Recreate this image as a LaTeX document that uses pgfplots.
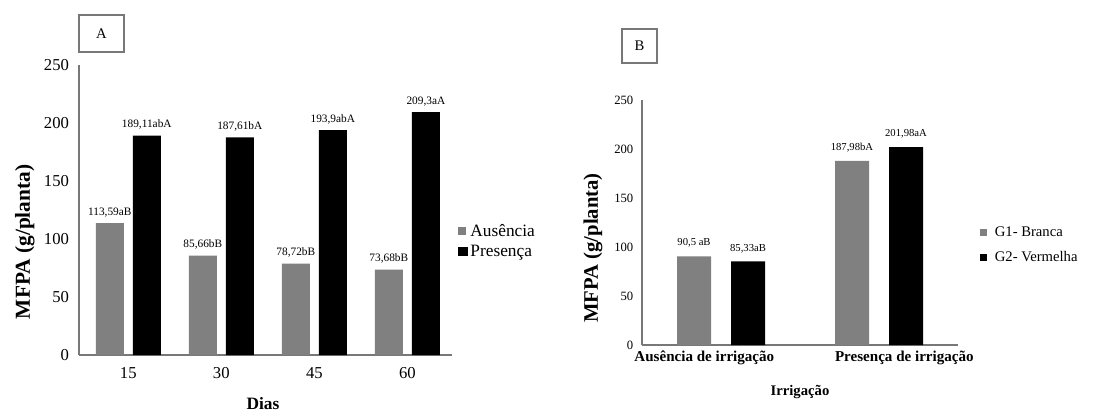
\documentclass[border=0pt]{standalone}
\usepackage{pgfplots}
\pgfplotsset{compat=1.18}
\usepackage{fontspec}
\setmainfont{Liberation Serif}

\definecolor{barGray}{RGB}{128,128,128}
\definecolor{axGray}{RGB}{120,120,120}

\pgfplotsset{
  panel/.style={
    scale only axis,
    anchor=south west,
    axis lines*=left,
    axis line style={axGray, line width=0.9pt, -},
    major tick length=0pt,
    ymin=0, ymax=250,
    ytick={0,50,100,150,200,250},
    /pgf/number format/assume math mode=true,
    xtick=data,
    nodes near coords,
    point meta=explicit symbolic,
    legend cell align=left,
    legend style={draw=none, fill=none},
    clip=false,
  },
  sqlegend/.style={
    legend image code/.code={\draw[##1, draw=none] (0pt,-#1) rectangle (2*#1,#1);}
  },
}

\begin{document}
\begin{tikzpicture}
\useasboundingbox (0,0) rectangle (828.75pt,309pt);

% ---------- Panel A: MFPA over days ----------
\begin{axis}[panel,
  at={(59.25pt,42.75pt)},
  width=279.75pt, height=217.5pt,
  xmin=-0.53, xmax=3.48,
  xticklabels={15,30,45,60},
  ybar=6.75pt, bar width=21pt,
  ticklabel style={font=\fontsize{12.5}{14}\selectfont},
  yticklabel style={xshift=-4pt},
  xticklabel style={yshift=-6pt},
  nodes near coords style={font=\fontsize{8.5}{10}\selectfont, yshift=1pt},
  xlabel={\textbf{Dias}},
  xlabel style={at={(axis description cs:0.493,-0.166)}, anchor=center, font=\fontsize{13}{15}\selectfont},
  ylabel={\textbf{MFPA (g/planta)}},
  ylabel style={at={(axis description cs:-0.145,0.39)}, anchor=center, font=\fontsize{16}{18}\selectfont},
  legend style={at={(axis description cs:1.005,0.393)}, anchor=west,
    font=\fontsize{13}{15.5}\selectfont, row sep=1pt},
]
\addplot[fill=barGray, draw=none, sqlegend=3pt] coordinates {
  (0,113.59) [113,59aB]
  (1,85.66)  [85,66bB]
  (2,78.72)  [78,72bB]
  (3,73.68)  [73,68bB]
};
\addplot[fill=black, draw=none, sqlegend=3.6pt] coordinates {
  (0,189.11) [189,11abA]
  (1,187.61) [187,61bA]
  (2,193.9)  [193,9abA]
  (3,209.3)  [209,3aA]
};
\legend{Ausência,Presença}
\end{axis}

% ---------- Panel B: MFPA by irrigation ----------
\begin{axis}[panel,
  at={(481.5pt,50.25pt)},
  width=237pt, height=183.75pt,
  xmin=-0.5, xmax=1.5,
  xticklabels={\textbf{Ausência de irrigação}\hspace*{25pt},\hspace*{38pt}\textbf{Presença de irrigação}},
  ybar=15pt, bar width=25.5pt,
  yticklabel style={font=\fontsize{9.5}{11}\selectfont, xshift=-3pt},
  xticklabel style={font=\fontsize{11.3}{12}\selectfont, yshift=-1pt},
  nodes near coords style={font=\fontsize{8}{9}\selectfont, yshift=3pt},
  xlabel={\textbf{Irrigação}},
  xlabel style={at={(axis description cs:0.5,-0.192)}, anchor=center, font=\fontsize{11}{12}\selectfont},
  ylabel={\textbf{MFPA (g/planta)}},
  ylabel style={at={(axis description cs:-0.155,0.396)}, anchor=center, font=\fontsize{15.5}{18}\selectfont},
  legend style={at={(axis description cs:1.055,0.408)}, anchor=west,
    font=\fontsize{11}{13}\selectfont, row sep=6pt,
    nodes={inner xsep=6pt}},
]
\addplot[fill=barGray, draw=none, sqlegend=2.7pt] coordinates {
  (0,90.5)   [90,5 aB]
  (1,187.98) [187,98bA]
};
\addplot[fill=black, draw=none, sqlegend=2.7pt] coordinates {
  (0,85.33)  [85,33aB]
  (1,201.98) [201,98aA]
};
\legend{G1- Branca,G2- Vermelha}
\end{axis}

% panel tags
\node[draw=axGray, line width=0.8pt, minimum width=33.75pt, minimum height=27.75pt,
  font=\fontsize{11}{12}\selectfont] at (76.1pt,283.9pt) {A};
\node[draw=axGray, line width=0.8pt, minimum width=26.25pt, minimum height=25.5pt,
  font=\fontsize{11}{12}\selectfont] at (479.6pt,274.5pt) {B};
\end{tikzpicture}
\end{document}
